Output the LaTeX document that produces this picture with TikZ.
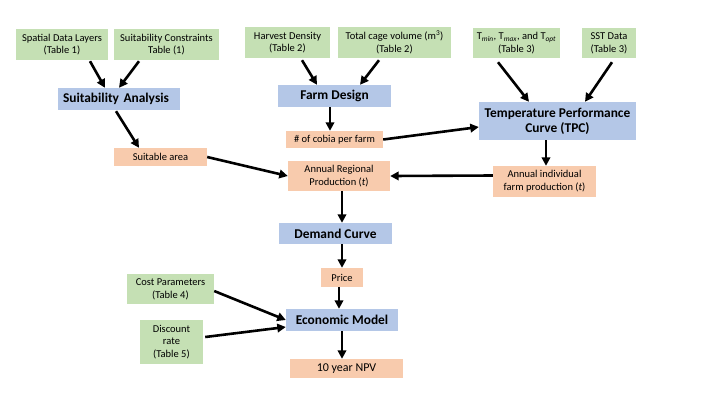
\documentclass[tikz,border=0pt]{standalone}
\usepackage{fontspec}
\setmainfont{Carlito}
\usetikzlibrary{arrows.meta}
\definecolor{grn}{HTML}{C5E0B4}
\definecolor{blu}{HTML}{B4C7E7}
\definecolor{org}{HTML}{F8CBAD}
\begin{document}
\begin{tikzpicture}[x=1pt,y=-1pt,
  box/.style={rectangle, inner sep=1pt, align=center, font=\fontsize{10.5}{12.7}\selectfont},
  inp/.style={box, fill=grn},
  outb/.style={box, fill=org},
  proc/.style={box, fill=blu, font=\bfseries\fontsize{13.4}{15}\selectfont},
  arr/.style={-{Triangle[length=8.5pt,width=8.5pt]}, line width=2.6pt}]
\useasboundingbox[fill=white] (0,0) rectangle (720,405);
% inputs
\node[inp, minimum width=92pt, minimum height=31pt] (sdl) at (62,44.5) {Spatial Data Layers\\(Table 1)};
\node[inp, minimum width=105pt, minimum height=31pt] (sc) at (166.5,44.5) {Suitability Constraints\\Table (1)};
\node[inp, minimum width=85pt, minimum height=31pt] (hd) at (287.5,42.5) {Harvest Density\\(Table 2)};
\node[inp, minimum width=113pt, minimum height=31pt] (tcv) at (394.5,42.5) {Total cage volume (m\textsuperscript{3})\\(Table 2)};
\node[inp, minimum width=87pt, minimum height=30pt] (tmin) at (516.5,43) {T\textsubscript{\textit{min}}, T\textsubscript{\textit{max}}, and T\textsubscript{\textit{opt}}\\(Table 3)};
\node[inp, minimum width=54pt, minimum height=30pt] (sst) at (609,43) {SST Data\\(Table 3)};
\node[inp, minimum width=87pt, minimum height=30pt] (cp) at (170.5,289) {Cost Parameters\\(Table 4)};
\node[inp, minimum width=63pt, minimum height=44pt] (dr) at (171.5,342) {Discount\\rate\\(Table 5)};
% processes
\node[proc, text width=112pt, align=left, inner xsep=5pt, minimum height=22pt] (sa) at (119,99) {Suitability Analysis};
\node[proc, minimum width=113pt, minimum height=22pt] (fd) at (334.5,96) {Farm Design};
\node[proc, minimum width=157pt, minimum height=38pt] (tpc) at (557.5,121) {Temperature Performance\\Curve (TPC)};
\node[proc, minimum width=113pt, minimum height=21pt] (dc) at (335.5,233.5) {Demand Curve};
\node[proc, minimum width=112pt, minimum height=22pt] (em) at (342,320) {Economic Model};
% outputs
\node[outb, minimum width=93pt, minimum height=18pt] (sua) at (160.5,157) {Suitable area};
\node[outb, minimum width=97pt, minimum height=17pt] (cob) at (334.5,139.5) {\# of cobia per farm};
\node[outb, minimum width=102pt, minimum height=30pt] (arp) at (339,176) {Annual Regional\\Production (\textit{t})};
\node[outb, minimum width=103pt, minimum height=31pt] (aifp) at (544.5,181.5) {Annual individual\\farm production (\textit{t})};
\node[outb, minimum width=42pt, minimum height=19pt] (pr) at (342,277.5) {Price};
\node[outb, minimum width=113pt, minimum height=19pt, font=\fontsize{12}{14}\selectfont] (npv) at (346.5,368.5) {10 year NPV};
% arrows
\draw[arr] ([xshift=28pt,yshift=-1pt]sdl.south) -- ([xshift=-14pt]sa.north);
\draw[arr] ([xshift=-27.5pt,yshift=-1pt]sc.south) -- ([xshift=0pt]sa.north);
\draw[arr] ([xshift=-3pt,yshift=-1pt]sa.south) -- ([xshift=-21.5pt]sua.north);
\draw[arr] (sua.east) -- (arp.west);
\draw[arr] ([xshift=14.5pt,yshift=-2pt]hd.south) -- ([xshift=-17.5pt]fd.north);
\draw[arr] ([xshift=-15.5pt,yshift=-2pt]tcv.south) -- ([xshift=25.5pt]fd.north);
\draw[arr] ([xshift=-4.5pt]fd.south) -- ([xshift=-4.5pt]cob.north);
\draw[arr] (cob.east) -- ([yshift=-6pt]tpc.west);
\draw[arr] ([xshift=-11.5pt]tpc.south) -- ([xshift=1.5pt]aifp.north);
\draw[arr] ([yshift=6pt]aifp.west) -- (arp.east);
\draw[arr] ([xshift=3pt]arp.south) -- ([xshift=6.5pt]dc.north);
\draw[arr] ([xshift=6.5pt]dc.south) -- (pr.north);
\draw[arr] ([xshift=-3pt]pr.south) -- ([xshift=-3pt]em.north);
\draw[arr] (em.south) -- ([xshift=-4.5pt]npv.north);
\draw[arr] ([yshift=-2pt]cp.east) -- (em.west);
\draw[arr] ([xshift=2pt,yshift=5pt]dr.east) -- ([yshift=-7pt]em.west);
\draw[arr] ([xshift=-18.5pt,yshift=-4pt]tmin.south) -- ([xshift=-28.5pt]tpc.north);
\draw[arr] ([xshift=3pt,yshift=-4pt]sst.south) -- ([xshift=27.5pt]tpc.north);
\end{tikzpicture}
\end{document}
